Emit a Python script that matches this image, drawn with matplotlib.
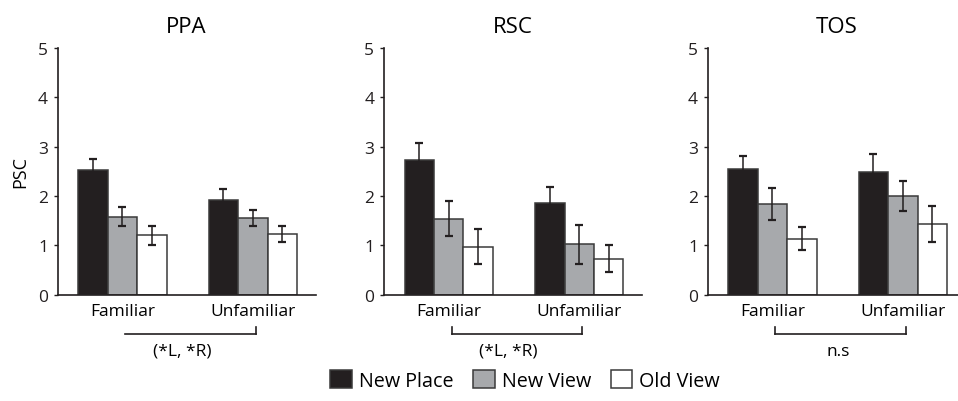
import matplotlib
matplotlib.use('Agg')
import matplotlib.pyplot as plt
from matplotlib.patches import Patch
from matplotlib import font_manager
import numpy as np

plt.rcParams['font.family'] = ['Open Sans', 'DejaVu Sans']

# nazwy fontow, waski do tytulow jesli jest
names = set(f.name for f in font_manager.fontManager.ttflist)
narrow = 'Liberation Sans Narrow' if 'Liberation Sans Narrow' in names else 'Open Sans'

regions = ['PPA', 'RSC', 'TOS']
conditions = ['New Place', 'New View', 'Old View']
groups = ['Familiar', 'Unfamiliar']

# wartosci [grupa][warunek]
ppa_mean = [[2.52, 1.58, 1.20], [1.91, 1.55, 1.22]]
ppa_err = [[0.22, 0.20, 0.19], [0.22, 0.17, 0.16]]
rsc_mean = [[2.72, 1.54, 0.97], [1.86, 1.02, 0.73]]
rsc_err = [[0.35, 0.35, 0.36], [0.32, 0.40, 0.27]]
tos_mean = [[2.54, 1.84, 1.13], [2.48, 2.00, 1.43]]
tos_err = [[0.26, 0.32, 0.23], [0.36, 0.31, 0.36]]

sig_labels = ['(*L, *R)', '(*L, *R)', 'n.s']

means = [ppa_mean, rsc_mean, tos_mean]
errs = [ppa_err, rsc_err, tos_err]

colors = ['#231f20', '#a7a9ac', '#ffffff']
edge = '#3a3a3a'
group_x = np.array([0.0, 4.43])
offs = np.array([-1.0, 0.0, 1.0])

fig = plt.figure(figsize=(9.58, 4.02), dpi=100)
lefts = [0.0602, 0.4008, 0.7387]
bottom, height, width = 0.2649, 0.6132, 0.2693

for k, reg in enumerate(regions):
    ax = fig.add_axes([lefts[k], bottom, width, height])
    m = np.array(means[k])
    e = np.array(errs[k])
    for c in range(3):
        xs = group_x + offs[c]
        ax.bar(xs, m[:, c], width=1.0, color=colors[c], edgecolor=edge, linewidth=1.1, zorder=2)
        ax.errorbar(xs, m[:, c], yerr=e[:, c], fmt='none', ecolor='#231f20',
                    elinewidth=1.1, capsize=2.6, capthick=1.6, zorder=3)
    ax.set_xlim(-2.2, 6.56)
    ax.set_ylim(0, 5)
    ax.set_yticks([0, 1, 2, 3, 4, 5])
    ax.set_xticks(group_x)
    ax.set_xticklabels(groups, fontsize=12.5)
    ax.tick_params(axis='x', length=0, pad=6)
    ax.tick_params(axis='y', length=3, width=1, pad=4, labelsize=12.5, colors='#231f20')
    for s in ['top', 'right']:
        ax.spines[s].set_visible(False)
    for s in ['left', 'bottom']:
        ax.spines[s].set_linewidth(1.2)
        ax.spines[s].set_color('#231f20')
    ax.set_title(reg, fontsize=16, family=narrow, pad=11.5)
    if k == 0:
        ax.set_ylabel('PSC', fontsize=13, labelpad=6)

    # klamra pod osia
    tr = ax.get_xaxis_transform()
    x0, x1 = group_x[0] + 0.1, group_x[1] + 0.1
    ax.plot([x0, x1], [-0.16, -0.16], color='#231f20', lw=1.2, transform=tr, clip_on=False)
    ax.plot([x1, x1], [-0.16, -0.13], color='#231f20', lw=1.2, transform=tr, clip_on=False)
    if k > 0:
        ax.plot([x0, x0], [-0.16, -0.13], color='#231f20', lw=1.2, transform=tr, clip_on=False)
    tx = (x0 + x1) / 2 - (0.1 if k == 2 else 0.3)
    ax.text(tx, -0.229, sig_labels[k], transform=tr, ha='center', va='center', fontsize=12.5)

handles = [Patch(facecolor=colors[i], edgecolor=edge, linewidth=1.1, label=conditions[i]) for i in range(3)]
fig.legend(handles=handles, loc='center', bbox_to_anchor=(0.548, 0.052), ncol=3, frameon=False,
           fontsize=14.2, handlelength=1.1, handleheight=1.1, handletextpad=0.35, columnspacing=1.0)

fig.savefig('out.png', dpi=100)
